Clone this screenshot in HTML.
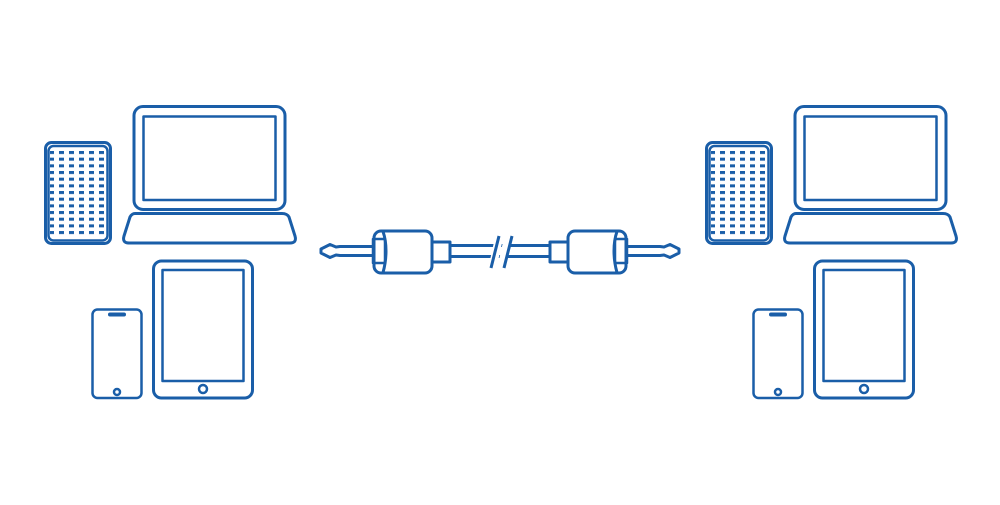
<!DOCTYPE html>
<html><head><meta charset="utf-8"><style>html,body{margin:0;padding:0;background:#fff}svg{display:block}</style></head>
<body>
<svg width="1000" height="505" viewBox="0 0 1000 505" xmlns="http://www.w3.org/2000/svg">
<defs>
<pattern id="dots" x="49" y="151" width="10" height="6.67" patternUnits="userSpaceOnUse">
<rect x="0" y="0" width="5" height="3" fill="#1a5ea8"/>
</pattern>
<g id="dev" fill="none" stroke="#1a5ea8" stroke-width="3" stroke-linejoin="round">
<rect x="45.5" y="142.5" width="65" height="101" rx="6"/>
<rect x="48.5" y="146" width="59" height="94.5" rx="5" stroke-width="2.5"/>
<rect x="50" y="150" width="56" height="86" fill="url(#dots)" stroke="none"/>
<rect x="134" y="106.5" width="151" height="103" rx="9"/>
<rect x="143.5" y="116.5" width="132" height="83.5" stroke-width="2.5"/>
<path d="M135 213.5 H282 Q287 213.5 289 217 L295 236 Q297 243 290 243 H129 Q122 243 124 236 L130 217 Q132 213.5 135 213.5 Z"/>
<rect x="153.5" y="261" width="99" height="137" rx="8"/>
<rect x="162.5" y="270" width="81" height="111" stroke-width="2.5"/>
<circle cx="203" cy="389" r="4" stroke-width="2.5"/>
<rect x="92.5" y="309.5" width="49" height="88.5" rx="5" stroke-width="2.5"/>
<line x1="110" y1="314.5" x2="124" y2="314.5" stroke-width="4" stroke-linecap="round"/>
<circle cx="117" cy="392" r="3" stroke-width="2.5"/>
</g>
</defs>
<use href="#dev"/>
<use href="#dev" x="661"/>
<g fill="none" stroke="#1a5ea8" stroke-width="3" stroke-linejoin="round">
<path d="M374 246.5 H340 L336 247 L330 244.5 L321 249 L321 253 L330 257.5 L336 255 L340 255.5 H374"/>
<rect x="374" y="231" width="58" height="42" rx="7"/>
<path d="M383 231.5 Q386 240 386 251 Q386 262 383 272.5"/>
<rect x="373" y="239" width="12" height="24" stroke-width="2.5"/>
<rect x="432" y="242" width="18" height="20"/>
<path d="M450 245.5 H550 M450 256.5 H550"/>
<path d="M493 265 L499 238 M502 265 L508 238" stroke="#fff" stroke-width="8"/>
<path d="M491 268 L499 236 M504 268 L512 236"/>
<rect x="550" y="242" width="18" height="20"/>
<rect x="568" y="231" width="58" height="42" rx="7"/>
<path d="M617 231.5 Q614 240 614 251 Q614 262 617 272.5"/>
<rect x="615" y="239" width="12" height="24" stroke-width="2.5"/>
<path d="M627 246.5 H660 L664 247 L670 244.5 L679 249 L679 253 L670 257.5 L664 255 L660 255.5 H627"/>
</g>
</svg>
</body></html>
